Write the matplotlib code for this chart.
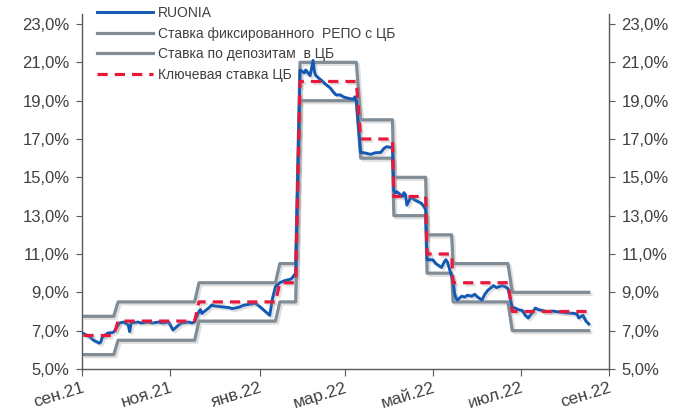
import numpy as np
import pandas as pd
import matplotlib
matplotlib.use("Agg")
import matplotlib.pyplot as plt
import matplotlib.patheffects as pe
from matplotlib.ticker import FuncFormatter

plt.rcParams['font.family'] = ['Liberation Sans', 'DejaVu Sans']

# --- data -------------------------------------------------------------
# CBR rate changes (effective dates) and rate levels, %
change_dates = ['2021-10-01', '2021-10-25', '2021-12-20', '2022-02-14', '2022-02-28',
                '2022-04-11', '2022-05-04', '2022-05-27', '2022-06-14', '2022-07-25']
key_rate = [6.75, 7.5, 8.5, 9.5, 20.0, 17.0, 14.0, 11.0, 9.5, 8.0]
repo_rate = [7.75, 8.5, 9.5, 10.5, 21.0, 18.0, 15.0, 12.0, 10.5, 9.0]
deposit_rate = [5.75, 6.5, 7.5, 8.5, 19.0, 16.0, 13.0, 10.0, 8.5, 7.0]
last_date = '2022-09-16'

# RUONIA
ruonia_dates = [
    '2021-10-01', '2021-10-05', '2021-10-08', '2021-10-12', '2021-10-13', '2021-10-14',
    '2021-10-18', '2021-10-21', '2021-10-22', '2021-10-26', '2021-10-29', '2021-11-01',
    '2021-11-02', '2021-11-03', '2021-11-08', '2021-11-10', '2021-11-15', '2021-11-18',
    '2021-11-22', '2021-11-25', '2021-11-29', '2021-12-02', '2021-12-06', '2021-12-08',
    '2021-12-13', '2021-12-15', '2021-12-17', '2021-12-20', '2021-12-21', '2021-12-22',
    '2021-12-27', '2021-12-29', '2021-12-30', '2022-01-10', '2022-01-12', '2022-01-17',
    '2022-01-20', '2022-01-25', '2022-01-28', '2022-02-01', '2022-02-04', '2022-02-07',
    '2022-02-09', '2022-02-11', '2022-02-14', '2022-02-17', '2022-02-22', '2022-02-25',
    '2022-02-28', '2022-03-01', '2022-03-03', '2022-03-04', '2022-03-07', '2022-03-09',
    '2022-03-10', '2022-03-11', '2022-03-15', '2022-03-17', '2022-03-21', '2022-03-23',
    '2022-03-25', '2022-03-28', '2022-03-30', '2022-04-01', '2022-04-04', '2022-04-06',
    '2022-04-07', '2022-04-08', '2022-04-11', '2022-04-14', '2022-04-18', '2022-04-21',
    '2022-04-25', '2022-04-27', '2022-04-29', '2022-05-03', '2022-05-04', '2022-05-05',
    '2022-05-06', '2022-05-10', '2022-05-11', '2022-05-12', '2022-05-13', '2022-05-16',
    '2022-05-17', '2022-05-19', '2022-05-23', '2022-05-25', '2022-05-26', '2022-05-27',
    '2022-05-31', '2022-06-02', '2022-06-06', '2022-06-08', '2022-06-09', '2022-06-10',
    '2022-06-14', '2022-06-15', '2022-06-16', '2022-06-17', '2022-06-20', '2022-06-22',
    '2022-06-24', '2022-06-27', '2022-06-29', '2022-07-01', '2022-07-04', '2022-07-06',
    '2022-07-08', '2022-07-12', '2022-07-14', '2022-07-18', '2022-07-20', '2022-07-22',
    '2022-07-25', '2022-07-27', '2022-07-29', '2022-08-01', '2022-08-03', '2022-08-05',
    '2022-08-08', '2022-08-10', '2022-08-12', '2022-08-15', '2022-08-18', '2022-08-22',
    '2022-08-26', '2022-08-30', '2022-09-02', '2022-09-06', '2022-09-08', '2022-09-09',
    '2022-09-12', '2022-09-14', '2022-09-16']
ruonia = [
    6.85, 6.7, 6.5, 6.35, 6.4, 6.65,
    6.88, 6.9, 6.93, 7.4, 7.45, 7.3,
    6.95, 7.4, 7.45, 7.4, 7.45, 7.4,
    7.45, 7.4, 7.45, 7.03, 7.3, 7.4,
    7.45, 7.4, 7.45, 8.0, 8.1, 7.9,
    8.2, 8.35, 8.3, 8.2, 8.15, 8.23,
    8.33, 8.39, 8.44, 8.2, 8.0, 7.8,
    8.7, 9.3, 9.5, 9.6, 9.7, 10.0,
    20.6, 20.55, 20.45, 20.6, 20.3, 21.1,
    20.5, 20.3, 20.05, 19.9, 19.66, 19.45,
    19.3, 19.3, 19.2, 19.15, 19.1, 19.08,
    19.2, 19.0, 16.3, 16.27, 16.2, 16.28,
    16.3, 16.5, 16.6, 16.55, 14.3, 14.2,
    14.25, 14.0, 14.2, 14.1, 13.55, 14.0,
    13.9, 13.8, 13.65, 13.45, 13.3, 10.7,
    10.7, 10.5, 10.3, 10.6, 10.7, 10.6,
    9.6, 8.96, 8.7, 8.6, 8.8, 8.75,
    8.85, 8.8, 8.9, 8.75, 8.6, 8.9,
    9.1, 9.35, 9.25, 9.35, 9.3, 9.2,
    8.2, 8.18, 8.1, 8.05, 7.8, 7.66,
    7.95, 8.18, 8.1, 8.05, 8.0, 8.02,
    7.98, 7.95, 7.92, 7.9, 7.85, 7.66,
    7.8, 7.5, 7.35]

tick_dates = ['2021-09-30', '2021-11-30', '2022-01-31', '2022-03-31',
              '2022-05-31', '2022-07-31', '2022-09-30']
tick_labels = ['сен.21', 'ноя.21', 'янв.22', 'мар.22', 'май.22', 'июл.22', 'сен.22']

# daily (business day) step series for the CBR rates
days = pd.bdate_range(change_dates[0], last_date)
idx = np.searchsorted(pd.to_datetime(change_dates), days, side='right') - 1
key_s = np.array(key_rate)[idx]
repo_s = np.array(repo_rate)[idx]
dep_s = np.array(deposit_rate)[idx]
ru_d = pd.to_datetime(ruonia_dates)

# --- plot -------------------------------------------------------------
blue = '#1259b3'
grey = '#808c96'
red = '#e8193c'
txt = '#404040'

fig = plt.figure(figsize=(6.78, 4.13), dpi=100)
ax = fig.add_axes([82 / 678, 44 / 413, 527 / 678, 354.6 / 413])

shadow = [pe.SimpleLineShadow(offset=(1.5, -1.5), shadow_color='#999999', alpha=0.3), pe.Normal()]

ax.plot(ru_d, ruonia, color=blue, lw=2.1, label='RUONIA', path_effects=shadow, zorder=3)
ax.plot(days, repo_s, color=grey, lw=2.3, label='Ставка фиксированного  РЕПО с ЦБ',
        path_effects=shadow, zorder=2)
ax.plot(days, dep_s, color=grey, lw=2.3, label='Ставка по депозитам  в ЦБ',
        path_effects=shadow, zorder=2)
ax.plot(days, key_s, color=red, lw=2.3, linestyle=(0, (3.2, 2.2)),
        label='Ключевая ставка ЦБ', path_effects=shadow, zorder=4)

ax.set_ylim(5, 23.5)
ax.set_yticks(np.arange(5, 24, 2))
ax.yaxis.set_major_formatter(FuncFormatter(lambda v, p: ('%.1f%%' % v).replace('.', ',')))
ax.set_xlim(pd.Timestamp(tick_dates[0]), pd.Timestamp(tick_dates[-1]))
ax.set_xticks(pd.to_datetime(tick_dates))
ax.set_xticklabels(tick_labels, rotation=17, ha='right', va='top', rotation_mode='anchor')

for s in ['left', 'right', 'bottom']:
    ax.spines[s].set_color('#595959')
    ax.spines[s].set_linewidth(1.0)
ax.spines['top'].set_visible(False)

ax.tick_params(axis='y', which='both', direction='out', length=4, colors='#595959',
               labelcolor=txt, labelsize=12, left=True, right=True,
               labelleft=True, labelright=True, pad=5)
ax.tick_params(axis='x', direction='out', length=5, colors='#595959',
               labelcolor=txt, labelsize=12.5, pad=3)

leg = ax.legend(loc='upper left', bbox_to_anchor=(97 / 678, 1 - 6 / 413),
                bbox_transform=fig.transFigure, frameon=False, fontsize=10,
                handlelength=4.0, handletextpad=0.4, labelspacing=0.48,
                borderpad=0, borderaxespad=0)
for t in leg.get_texts():
    t.set_color(txt)
for h in leg.get_lines():
    h.set_path_effects([])

fig.savefig('out.png', dpi=100)
